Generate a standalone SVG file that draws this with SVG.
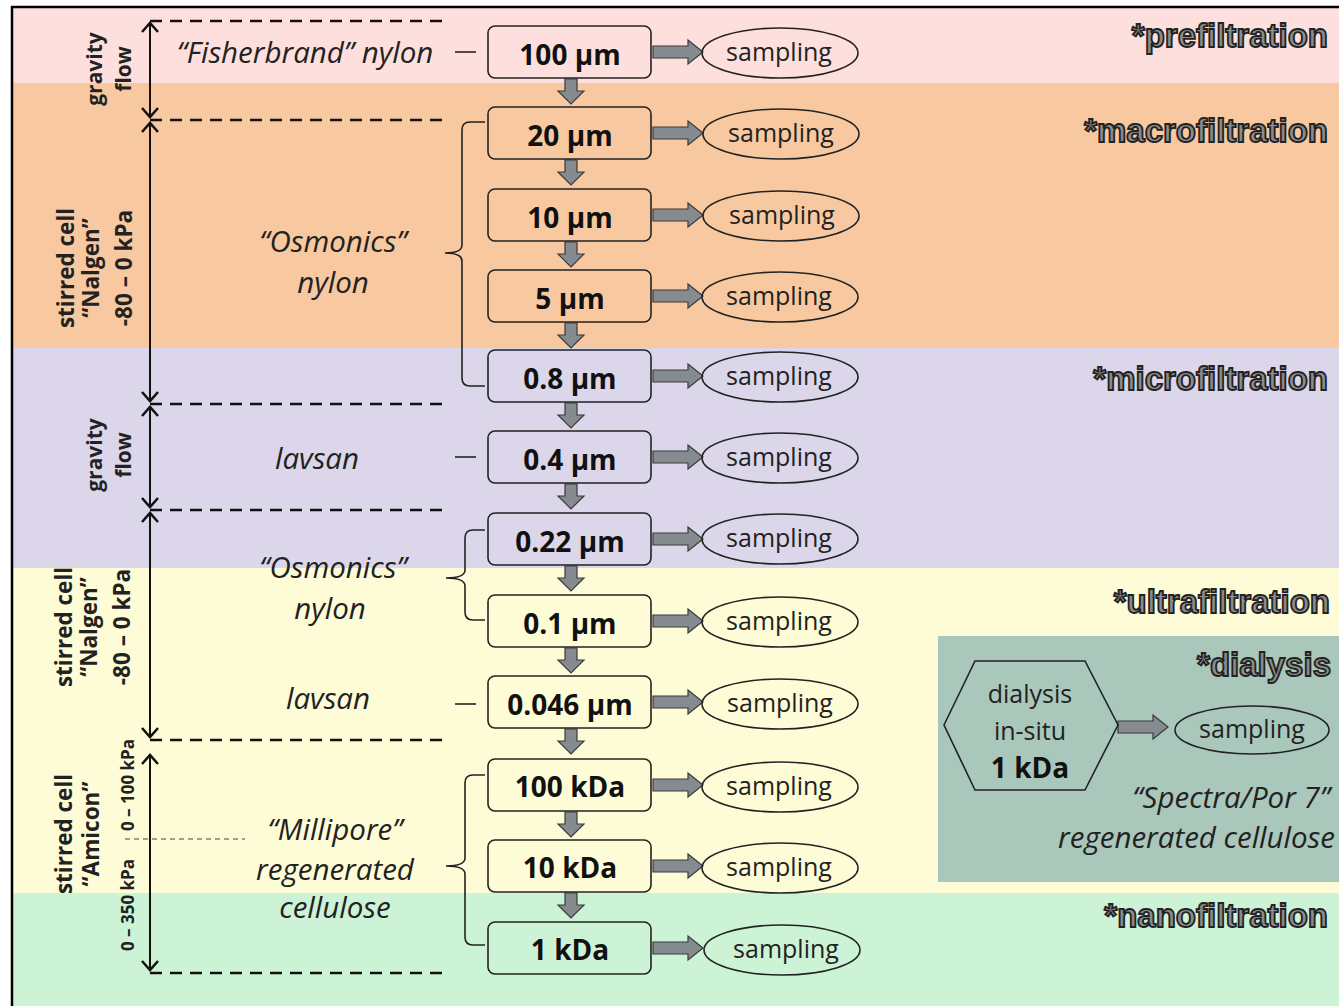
<svg xmlns="http://www.w3.org/2000/svg" xmlns:xlink="http://www.w3.org/1999/xlink" width="1339" height="1006" viewBox="0 0 1339 1006">
<style>
.box{fill:none;stroke:#222;stroke-width:1.6}
.ell{fill:none;stroke:#222;stroke-width:1.6}
.bt{font-family:"Open Sans","Liberation Sans",sans-serif;font-weight:bold;font-size:28px;fill:#111;text-anchor:middle}
.st{font-family:"Open Sans","Liberation Sans",sans-serif;font-size:25px;fill:#222;text-anchor:middle}
.it{font-family:"Open Sans","Liberation Sans",sans-serif;font-style:italic;font-size:29.5px;fill:#222;text-anchor:middle}
.rt{font-family:"Open Sans","Liberation Sans",sans-serif;font-weight:bold;font-size:21px;fill:#222;text-anchor:middle}
.rn{font-family:"Open Sans","Liberation Sans",sans-serif;font-weight:bold;font-size:22.5px;fill:#222;text-anchor:middle}
.rs{font-family:"Open Sans","Liberation Sans",sans-serif;font-weight:bold;font-size:17px;fill:#222;text-anchor:middle}
.hd{font-family:"Liberation Sans",Arial,sans-serif;font-weight:900;font-size:33px;fill:#8c8c8c;stroke:#222;stroke-width:1.8;text-anchor:end}
.blk{fill:#868b90;stroke:#3a3a3a;stroke-width:1.2}
.dash{stroke:#111;stroke-width:2.5;stroke-dasharray:12 8;fill:none}
.vl{stroke:#111;stroke-width:2;fill:none}
.chev{stroke:#111;stroke-width:2.5;fill:none}
.thin{stroke:#222;stroke-width:1.6;fill:none}
</style>
<defs>
<polygon id="ra" class="blk" points="0,-6 35,-6 35,-12 50,0 35,12 35,6 0,6"/>
<polygon id="da" class="blk" points="-6,0 6,0 6,12 13,12 0,25 -13,12 -6,12"/>
</defs>
<g id="bands">
<rect x="12" y="7" width="1327" height="76" fill="#fde0dd"/>
<rect x="12" y="83" width="1327" height="265" fill="#f8c9a0"/>
<rect x="12" y="348" width="1327" height="220" fill="#dcd6ea"/>
<rect x="12" y="568" width="1327" height="325" fill="#fefcd6"/>
<rect x="12" y="893" width="1327" height="113" fill="#cdf3d6"/>
<rect x="938" y="636" width="401" height="246" fill="#a9c7ba"/>
<path d="M12,1006 L12,7 L1339,7" fill="none" stroke="#000" stroke-width="2.5"/>
</g>
<g id="headings">
<text class="hd" x="1328" y="47">*prefiltration</text>
<text class="hd" x="1328" y="142">*macrofiltration</text>
<text class="hd" x="1328" y="390">*microfiltration</text>
<text class="hd" x="1330" y="613">*ultrafiltration</text>
<text class="hd" x="1331" y="676">*dialysis</text>
<text class="hd" x="1328" y="927">*nanofiltration</text>
</g>
<g id="connectors">
<use xlink:href="#da" x="571" y="79"/>
<use xlink:href="#da" x="571" y="160"/>
<use xlink:href="#da" x="571" y="242"/>
<use xlink:href="#da" x="571" y="323"/>
<use xlink:href="#da" x="571" y="403"/>
<use xlink:href="#da" x="571" y="484"/>
<use xlink:href="#da" x="571" y="566"/>
<use xlink:href="#da" x="571" y="648"/>
<use xlink:href="#da" x="571" y="729"/>
<use xlink:href="#da" x="571" y="812"/>
<use xlink:href="#da" x="571" y="893"/>
<use xlink:href="#ra" x="653" y="52"/>
<use xlink:href="#ra" x="653" y="133"/>
<use xlink:href="#ra" x="653" y="215"/>
<use xlink:href="#ra" x="653" y="296"/>
<use xlink:href="#ra" x="653" y="376"/>
<use xlink:href="#ra" x="653" y="457"/>
<use xlink:href="#ra" x="653" y="539"/>
<use xlink:href="#ra" x="653" y="621"/>
<use xlink:href="#ra" x="653" y="702"/>
<use xlink:href="#ra" x="653" y="785"/>
<use xlink:href="#ra" x="653" y="866"/>
<use xlink:href="#ra" x="653" y="948"/>
<use xlink:href="#ra" x="1118" y="727"/>
<line class="thin" x1="455" y1="52" x2="476" y2="52"/>
<line class="thin" x1="455" y1="457" x2="476" y2="457"/>
<line class="thin" x1="455" y1="704" x2="476" y2="704"/>
<path class="thin" d="M485,122 L470,122 Q462,122 462,130 L462,245 Q462,253 445,253 Q462,253 462,261 L462,378 Q462,386 470,386 L485,386"/>
<path class="thin" d="M485,530 L473,530 Q465,530 465,538 L465,570 Q465,578 446,578 Q465,578 465,586 L465,612 Q465,620 473,620 L485,620"/>
<path class="thin" d="M485,775 L473,775 Q465,775 465,783 L465,858 Q465,866 446,866 Q465,866 465,874 L465,937 Q465,945 473,945 L485,945"/>
</g>
<g id="scales">
<line class="dash" x1="150" y1="21" x2="445" y2="21"/>
<line class="dash" x1="150" y1="120" x2="445" y2="120"/>
<line class="dash" x1="150" y1="404" x2="445" y2="404"/>
<line class="dash" x1="150" y1="510" x2="445" y2="510"/>
<line class="dash" x1="150" y1="740" x2="445" y2="740"/>
<line class="dash" x1="150" y1="973" x2="445" y2="973"/>
<line x1="125" y1="839" x2="245" y2="839" stroke="#444" stroke-width="1.2" stroke-dasharray="5 4"/>
<line class="vl" x1="150" y1="23" x2="150" y2="117"/>
<polyline class="chev" points="142,32 150,23 158,32"/>
<polyline class="chev" points="142,108 150,117 158,108"/>
<line class="vl" x1="150" y1="123" x2="150" y2="401"/>
<polyline class="chev" points="142,132 150,123 158,132"/>
<polyline class="chev" points="142,392 150,401 158,392"/>
<line class="vl" x1="150" y1="407" x2="150" y2="507"/>
<polyline class="chev" points="142,416 150,407 158,416"/>
<polyline class="chev" points="142,498 150,507 158,498"/>
<line class="vl" x1="150" y1="513" x2="150" y2="737"/>
<polyline class="chev" points="142,522 150,513 158,522"/>
<polyline class="chev" points="142,728 150,737 158,728"/>
<line class="vl" x1="150" y1="755" x2="150" y2="970"/>
<polyline class="chev" points="142,764 150,755 158,764"/>
<polyline class="chev" points="142,961 150,970 158,961"/>
<text class="rt" transform="translate(102,69) rotate(-90)">gravity</text>
<text class="rt" transform="translate(131,69) rotate(-90)">flow</text>
<text class="rn" transform="translate(74,268) rotate(-90)">stirred cell</text>
<text class="rn" transform="translate(99,268) rotate(-90)">“Nalgen”</text>
<text class="rn" transform="translate(132,268) rotate(-90)">-80 – 0 kPa</text>
<text class="rt" transform="translate(102,455) rotate(-90)">gravity</text>
<text class="rt" transform="translate(131,455) rotate(-90)">flow</text>
<text class="rn" transform="translate(72,627) rotate(-90)">stirred cell</text>
<text class="rn" transform="translate(97,627) rotate(-90)">“Nalgen”</text>
<text class="rn" transform="translate(130,627) rotate(-90)">-80 – 0 kPa</text>
<text class="rn" transform="translate(72,834) rotate(-90)">stirred cell</text>
<text class="rn" transform="translate(99,834) rotate(-90)">“Amicon”</text>
<text class="rs" transform="translate(134,785) rotate(-90)">0 – 100 kPa</text>
<text class="rs" transform="translate(134,905) rotate(-90)">0 – 350 kPa</text>
</g>
<g id="materials">
<text class="it" x="305" y="63">“Fisherbrand” nylon</text>
<text class="it" x="333" y="252">“Osmonics”</text>
<text class="it" x="333" y="293">nylon</text>
<text class="it" x="317" y="469">lavsan</text>
<text class="it" x="333" y="578">“Osmonics”</text>
<text class="it" x="330" y="619">nylon</text>
<text class="it" x="328" y="709">lavsan</text>
<text class="it" x="335" y="840">“Millipore”</text>
<text class="it" x="335" y="880">regenerated</text>
<text class="it" x="335" y="918">cellulose</text>
</g>
<g id="n100um"><rect class="box" x="488" y="26" width="163" height="52" rx="7"/><text class="bt" x="570" y="65">100 µm</text></g>
<g id="s100um"><ellipse class="ell" cx="780" cy="53" rx="78" ry="25"/><text class="st" x="779" y="61">sampling</text></g>
<g id="n20um"><rect class="box" x="488" y="107" width="163" height="52" rx="7"/><text class="bt" x="570" y="146">20 µm</text></g>
<g id="s20um"><ellipse class="ell" cx="781" cy="134" rx="78" ry="25"/><text class="st" x="781" y="142">sampling</text></g>
<g id="n10um"><rect class="box" x="488" y="189" width="163" height="52" rx="7"/><text class="bt" x="570" y="228">10 µm</text></g>
<g id="s10um"><ellipse class="ell" cx="781" cy="216" rx="78" ry="25"/><text class="st" x="782" y="224">sampling</text></g>
<g id="n5um"><rect class="box" x="488" y="270" width="163" height="52" rx="7"/><text class="bt" x="570" y="309">5 µm</text></g>
<g id="s5um"><ellipse class="ell" cx="780" cy="297" rx="78" ry="25"/><text class="st" x="779" y="305">sampling</text></g>
<g id="n08um"><rect class="box" x="488" y="350" width="163" height="52" rx="7"/><text class="bt" x="570" y="389">0.8 µm</text></g>
<g id="s08um"><ellipse class="ell" cx="780" cy="377" rx="78" ry="25"/><text class="st" x="779" y="385">sampling</text></g>
<g id="n04um"><rect class="box" x="488" y="431" width="163" height="52" rx="7"/><text class="bt" x="570" y="470">0.4 µm</text></g>
<g id="s04um"><ellipse class="ell" cx="780" cy="458" rx="78" ry="25"/><text class="st" x="779" y="466">sampling</text></g>
<g id="n022um"><rect class="box" x="488" y="513" width="163" height="52" rx="7"/><text class="bt" x="570" y="552">0.22 µm</text></g>
<g id="s022um"><ellipse class="ell" cx="780" cy="539" rx="78" ry="25"/><text class="st" x="779" y="547">sampling</text></g>
<g id="n01um"><rect class="box" x="488" y="595" width="163" height="52" rx="7"/><text class="bt" x="570" y="634">0.1 µm</text></g>
<g id="s01um"><ellipse class="ell" cx="780" cy="622" rx="78" ry="25"/><text class="st" x="779" y="630">sampling</text></g>
<g id="n0046um"><rect class="box" x="488" y="676" width="163" height="52" rx="7"/><text class="bt" x="570" y="715">0.046 µm</text></g>
<g id="s0046um"><ellipse class="ell" cx="780" cy="704" rx="78" ry="25"/><text class="st" x="780" y="712">sampling</text></g>
<g id="n100kda"><rect class="box" x="488" y="759" width="163" height="52" rx="7"/><text class="bt" x="570" y="797">100 kDa</text></g>
<g id="s100kda"><ellipse class="ell" cx="780" cy="787" rx="78" ry="25"/><text class="st" x="779" y="795">sampling</text></g>
<g id="n10kda"><rect class="box" x="488" y="840" width="163" height="52" rx="7"/><text class="bt" x="570" y="878">10 kDa</text></g>
<g id="s10kda"><ellipse class="ell" cx="780" cy="868" rx="78" ry="25"/><text class="st" x="779" y="876">sampling</text></g>
<g id="n1kda"><rect class="box" x="488" y="922" width="163" height="52" rx="7"/><text class="bt" x="570" y="960">1 kDa</text></g>
<g id="s1kda"><ellipse class="ell" cx="782" cy="950" rx="78" ry="25"/><text class="st" x="786" y="958">sampling</text></g>
<g id="dialysis">
<polygon class="box" points="944,725 975,661 1085,661 1118,725 1085,790 975,790"/>
<text class="st" x="1030" y="703">dialysis</text>
<text class="st" x="1030" y="740">in-situ</text>
<text class="bt" x="1030" y="778">1 kDa</text>
</g>
<g id="sdialysis"><ellipse class="ell" cx="1252" cy="730" rx="77" ry="24"/><text class="st" x="1252" y="738">sampling</text></g>
<g id="dialysis-material">
<text class="it" x="1330" y="808" style="text-anchor:end">“Spectra/Por 7”</text>
<text class="it" x="1335" y="848" style="text-anchor:end">regenerated cellulose</text>
</g>
</svg>
